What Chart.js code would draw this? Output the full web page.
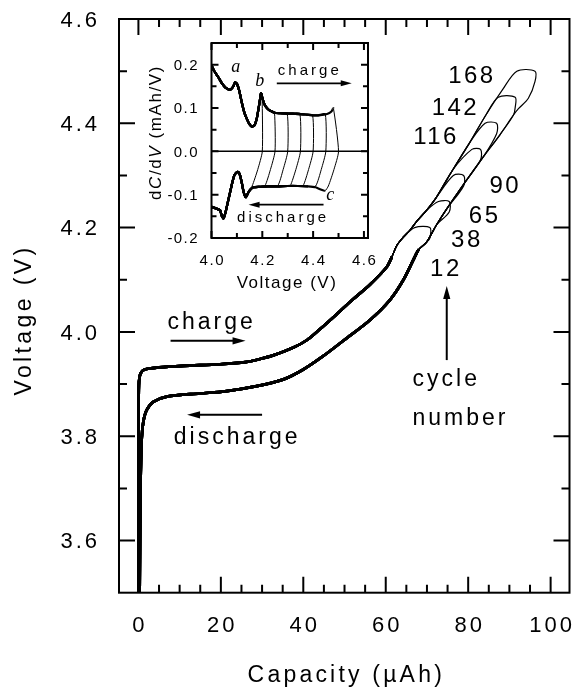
<!DOCTYPE html>
<html>
<head>
<meta charset="utf-8">
<title>Voltage vs capacity</title>
<script src="https://cdn.jsdelivr.net/npm/chart.js@4.4.1/dist/chart.umd.min.js"></script>
<style>
  html, body { margin: 0; padding: 0; background: #ffffff; }
  #wrap { position: relative; width: 576px; height: 693px; overflow: hidden; background: #ffffff; }
  #mainChart { position: absolute; left: 0; top: 0; }
  #insetChart { position: absolute; left: 140px; top: 30px; }
</style>
</head>
<body>
<div id="wrap">
  <canvas id="mainChart" width="576" height="693"></canvas>
  <canvas id="insetChart" width="240" height="280"></canvas>
</div>
<script>
// ---------------- data ----------------
const cycleNumbers = [12, 38, 65, 90, 116, 142, 168];
const cutoffVoltage = [4.20, 4.25, 4.30, 4.35, 4.40, 4.45, 4.50];
const cutoffStartCapacity = [67.0, 72.8, 76.4, 80.9, 84.1, 87.3, 91.8];
const cutoffEndCapacity = [70.7, 75.4, 78.9, 83.0, 86.9, 91.4, 96.2];

const chargeCapacity = [0, 0.05, 0.15, 0.5, 1.5, 5.0, 10.9, 19.8, 26.0, 29.5, 32.7, 37.6, 41.0, 44.0, 48.1, 52.0, 56.2, 60.2, 61.5, 62.7, 64.3, 65.9, 67.5, 69.9, 72.2, 76.2, 80.3, 84.3, 88.3, 90.8];
const chargeVoltage = [3.50, 3.86, 3.905, 3.920, 3.928, 3.932, 3.935, 3.938, 3.942, 3.948, 3.955, 3.970, 3.985, 4.005, 4.034, 4.062, 4.091, 4.124, 4.144, 4.166, 4.182, 4.195, 4.212, 4.233, 4.257, 4.310, 4.362, 4.416, 4.464, 4.490];

const dischargeCapacity = [0.3, 0.5, 0.8, 1.2, 2.0, 3.6, 6.9, 14.9, 21.0, 28.7, 35.2, 40.0, 44.7, 50.0, 56.2, 61.0, 64.3, 66.7, 68.0, 69.9, 72.3, 74.8, 78.8, 83.7, 87.7, 91.0, 92.2, 94.6];
const dischargeVoltage = [3.50, 3.70, 3.796, 3.828, 3.850, 3.866, 3.876, 3.882, 3.886, 3.896, 3.909, 3.928, 3.953, 3.985, 4.023, 4.061, 4.100, 4.138, 4.158, 4.172, 4.205, 4.236, 4.282, 4.336, 4.378, 4.416, 4.428, 4.448];

const capacityTicks = [0, 20, 40, 60, 80, 100];
const voltageTicks = [3.6, 3.8, 4.0, 4.2, 4.4, 4.6];

// inset: dC/dV versus voltage
const insetChargeVoltage = [4.000, 4.010, 4.027, 4.042, 4.055, 4.073, 4.084, 4.093, 4.101, 4.110, 4.119, 4.129, 4.139, 4.150, 4.160, 4.170, 4.178, 4.185, 4.191, 4.195, 4.199, 4.206, 4.213, 4.225, 4.237, 4.248, 4.270, 4.298, 4.320, 4.348, 4.370, 4.398, 4.420, 4.448, 4.462, 4.472, 4.480];
const insetChargeDCdV = [0.198, 0.186, 0.171, 0.156, 0.147, 0.142, 0.148, 0.159, 0.155, 0.138, 0.113, 0.090, 0.075, 0.062, 0.057, 0.061, 0.075, 0.098, 0.120, 0.134, 0.126, 0.112, 0.104, 0.096, 0.092, 0.089, 0.088, 0.087, 0.087, 0.086, 0.085, 0.083, 0.083, 0.085, 0.088, 0.092, 0.099];
const insetDischargeVoltage = [4.447, 4.430, 4.410, 4.380, 4.340, 4.300, 4.260, 4.220, 4.190, 4.165, 4.155, 4.145, 4.135, 4.127, 4.119, 4.112, 4.106, 4.098, 4.090, 4.082, 4.073, 4.064, 4.055, 4.047, 4.040, 4.034, 4.027, 4.015, 4.000];
const insetDischargeDCdV = [-0.091, -0.088, -0.083, -0.081, -0.080, -0.080, -0.081, -0.081, -0.082, -0.083, -0.087, -0.095, -0.106, -0.095, -0.072, -0.055, -0.048, -0.049, -0.055, -0.072, -0.095, -0.118, -0.141, -0.155, -0.148, -0.136, -0.134, -0.131, -0.128];

const insetVoltageTicks = [4.0, 4.2, 4.4, 4.6];
const insetDCdVTicks = [-0.2, -0.1, 0.0, 0.1, 0.2];

// ---------------- layout / style (not data) ----------------
const SANS = '"Liberation Sans", Arial, Helvetica, sans-serif';
const SERIF = '"Liberation Serif", "Times New Roman", serif';

const mainNotes = {
  texts: [
    { t: 'charge', x: 17.4, y: 4.0065, align: 'center' },
    { t: 'discharge', x: 23.6, y: 3.786, align: 'center' },
    { t: 'cycle', x: 66.5, y: 3.8963, align: 'left' },
    { t: 'number', x: 66.5, y: 3.8215, align: 'left' }
  ],
  arrows: [
    { x1: 7.8, y1: 3.983, x2: 26.0, y2: 3.983 },
    { x1: 30.0, y1: 3.841, x2: 11.8, y2: 3.841 },
    { x1: 74.8, y1: 3.946, x2: 74.8, y2: 4.088 }
  ],
  cycleLabelPos: [[74.3, 4.123], [79.4, 4.180], [83.7, 4.226], [88.7, 4.283], [71.9, 4.376], [76.6, 4.433], [80.6, 4.494]]
};
const insetNotes = {
  letters: [{ t: 'a', x: 4.095, y: 0.184 }, { t: 'b', x: 4.19, y: 0.150 }, { t: 'c', x: 4.467, y: -0.112 }],
  texts: [{ t: 'charge', x: 4.381, y: 0.176 }, { t: 'discharge', x: 4.276, y: -0.164 }],
  arrows: [
    { x1: 4.257, y1: 0.157, x2: 4.552, y2: 0.157 },
    { x1: 4.441, y1: -0.123, x2: 4.146, y2: -0.123 }
  ]
};

// ---------------- helpers ----------------
function drawRich(ctx, parts, x, y, o) {
  const ls = o.ls || 0, fam = o.family || SANS;
  const hasLS = ('letterSpacing' in ctx);
  ctx.save();
  ctx.fillStyle = '#000';
  ctx.textAlign = 'left';
  ctx.textBaseline = 'alphabetic';
  let total = 0, chars = 0;
  const ws = parts.map(p => {
    ctx.font = `${p.style || 'normal'} ${o.size}px ${fam}`;
    if (hasLS) ctx.letterSpacing = '0px';
    const w = ctx.measureText(p.t).width;
    total += w; chars += p.t.length;
    return w;
  });
  const eff = hasLS ? ls : 0;
  total += eff * (chars - 1);
  const start = o.align === 'center' ? -total / 2 : (o.align === 'right' ? -total : 0);
  const base = o.vcenter ? o.size * 0.358 : 0;
  ctx.translate(x, y);
  if (o.rotate) ctx.rotate(-Math.PI / 2);
  let cx = start;
  parts.forEach((p, i) => {
    ctx.font = `${p.style || 'normal'} ${o.size}px ${fam}`;
    if (hasLS) ctx.letterSpacing = eff + 'px';
    ctx.fillText(p.t, cx, base);
    cx += ws[i] + eff * p.t.length;
  });
  ctx.restore();
}
function drawText(ctx, str, x, y, o) { drawRich(ctx, [{ t: str, style: o.style }], x, y, o); }

function drawArrow(ctx, x1, y1, x2, y2, head, half, lw) {
  const ang = Math.atan2(y2 - y1, x2 - x1);
  ctx.save();
  ctx.strokeStyle = '#000'; ctx.fillStyle = '#000'; ctx.lineWidth = lw;
  ctx.beginPath();
  ctx.moveTo(x1, y1);
  ctx.lineTo(x2 - Math.cos(ang) * head * 0.7, y2 - Math.sin(ang) * head * 0.7);
  ctx.stroke();
  ctx.translate(x2, y2); ctx.rotate(ang);
  ctx.beginPath(); ctx.moveTo(0, 0); ctx.lineTo(-head, -half); ctx.lineTo(-head, half); ctx.closePath(); ctx.fill();
  ctx.restore();
}

// ---------------- main datasets ----------------
function buildMainLoop(i) {
  const vc = cutoffVoltage[i];
  const pts = [];
  chargeCapacity.forEach((c, k) => {
    if (chargeVoltage[k] < vc - 0.01 && c < cutoffStartCapacity[i] - 0.5) pts.push({ x: c, y: chargeVoltage[k] });
  });
  pts.push({ x: cutoffStartCapacity[i], y: vc }, { x: cutoffEndCapacity[i], y: vc }, { x: cutoffEndCapacity[i], y: vc - 0.02 });
  for (let k = dischargeCapacity.length - 1; k >= 0; k--) {
    if (dischargeVoltage[k] < vc - 0.025 && dischargeCapacity[k] < cutoffEndCapacity[i]) pts.push({ x: dischargeCapacity[k], y: dischargeVoltage[k] });
  }
  const widths = pts.slice(1).map((p, k) => (p.y < 4.16 && pts[k].y < 4.16) ? 2.7 : 1.2);
  return {
    label: 'cycle ' + cycleNumbers[i], data: pts, showLine: true, fill: false, tension: 0.3,
    borderColor: '#000', borderWidth: 1.2, borderJoinStyle: 'round', pointRadius: 0, pointHoverRadius: 0,
    segment: { borderWidth: c => widths[c.p0DataIndex] }
  };
}

function buildInsetLoop(i) {
  const vc = cutoffVoltage[i];
  const pts = [];
  insetChargeVoltage.forEach((v, k) => { if (v <= vc - 0.001) pts.push({ x: v, y: insetChargeDCdV[k] }); });
  const thinStart = pts.length - 1;
  pts.push({ x: vc, y: 0 }, { x: vc - 0.018, y: -0.042 }, { x: vc - 0.04, y: -0.08 });
  const thinEnd = pts.length;
  insetDischargeVoltage.forEach((v, k) => { if (v < vc - 0.045) pts.push({ x: v, y: insetDischargeDCdV[k] }); });
  return {
    label: 'cycle ' + cycleNumbers[i], data: pts, showLine: true, fill: false, tension: 0.2,
    borderColor: '#000', borderWidth: 2.2, borderJoinStyle: 'round', pointRadius: 0, pointHoverRadius: 0,
    segment: { borderWidth: c => (c.p0DataIndex >= thinStart && c.p1DataIndex <= thinEnd) ? 1.0 : 2.2 }
  };
}

// ---------------- main decorations ----------------
const mainDecor = {
  id: 'mainDecor',
  afterDraw(chart) {
    const { ctx, chartArea: a, scales: { x, y } } = chart;
    ctx.save();
    ctx.strokeStyle = '#000'; ctx.fillStyle = '#000'; ctx.lineWidth = 2; ctx.lineCap = 'butt';
    ctx.beginPath();
    for (let k = 0; k <= 20; k++) {
      const v = k * 5, px = x.getPixelForValue(v), L = (k % 4 === 0) ? 16 : 8;
      ctx.moveTo(px, a.bottom); ctx.lineTo(px, a.bottom - L);
      ctx.moveTo(px, a.top); ctx.lineTo(px, a.top + L);
    }
    for (let k = 36; k <= 46; k++) {
      const v = k / 10, py = y.getPixelForValue(v), L = (k % 2 === 0) ? 16 : 8;
      ctx.moveTo(a.left, py); ctx.lineTo(a.left + L, py);
      ctx.moveTo(a.right, py); ctx.lineTo(a.right - L, py);
    }
    ctx.stroke();
    ctx.strokeRect(a.left, a.top, a.right - a.left, a.bottom - a.top);
    ctx.restore();

    // tick labels
    x.ticks.forEach(t => drawText(ctx, String(t.value), x.getPixelForValue(t.value), a.bottom + 39, { size: 22, ls: 3, align: 'center' }));
    y.ticks.forEach(t => drawText(ctx, t.value.toFixed(1), a.left - 22, y.getPixelForValue(t.value), { size: 22, ls: 3, align: 'right', vcenter: true }));

    // axis titles
    drawText(ctx, 'Capacity (\u00b5Ah)', 344.7, 681.7, { size: 23, ls: 3.2, align: 'center' });
    drawText(ctx, 'Voltage (V)', 31, 321.7, { size: 23, ls: 3.4, align: 'center', rotate: true });

    // annotations
    mainNotes.texts.forEach(n => drawText(ctx, n.t, x.getPixelForValue(n.x), y.getPixelForValue(n.y), { size: 23, ls: 3, align: n.align }));
    mainNotes.arrows.forEach(r => drawArrow(ctx, x.getPixelForValue(r.x1), y.getPixelForValue(r.y1), x.getPixelForValue(r.x2), y.getPixelForValue(r.y2), 13, 3.6, 2));
    cycleNumbers.forEach((n, i) => {
      const p = mainNotes.cycleLabelPos[i];
      drawText(ctx, String(n), x.getPixelForValue(p[0]), y.getPixelForValue(p[1]), { size: 24, ls: 2.5, align: 'center', vcenter: true });
    });
  }
};

// ---------------- inset decorations ----------------
const insetDecor = {
  id: 'insetDecor',
  afterDraw(chart) {
    const { ctx, chartArea: a, scales: { x, y } } = chart;
    ctx.save();
    ctx.strokeStyle = '#000'; ctx.lineWidth = 1.5; ctx.lineCap = 'butt';
    const y0 = y.getPixelForValue(0);
    ctx.beginPath(); ctx.moveTo(a.left, y0); ctx.lineTo(a.right, y0); ctx.stroke();
    ctx.lineWidth = 2;
    ctx.beginPath();
    for (let k = 0; k <= 6; k++) {
      const px = x.getPixelForValue(4 + k / 10), L = (k % 2 === 0) ? 7 : 5;
      ctx.moveTo(px, a.bottom); ctx.lineTo(px, a.bottom - L);
      ctx.moveTo(px, a.top); ctx.lineTo(px, a.top + L);
    }
    for (let k = -4; k <= 4; k++) {
      const py = y.getPixelForValue(k * 0.05), L = (k % 2 === 0) ? 7 : 5;
      ctx.moveTo(a.left, py); ctx.lineTo(a.left + L, py);
      ctx.moveTo(a.right, py); ctx.lineTo(a.right - L, py);
    }
    ctx.stroke();
    ctx.strokeRect(a.left, a.top, a.right - a.left, a.bottom - a.top);
    ctx.restore();

    x.ticks.forEach(t => drawText(ctx, t.value.toFixed(1), x.getPixelForValue(t.value), a.bottom + 27, { size: 15, ls: 1.6, align: 'center' }));
    y.ticks.forEach(t => drawText(ctx, t.value.toFixed(1), a.left - 14, y.getPixelForValue(t.value), { size: 15, ls: 1.4, align: 'right', vcenter: true }));

    drawText(ctx, 'Voltage (V)', (a.left + a.right) / 2 - 3.5, a.bottom + 50.3, { size: 17, ls: 1.5, align: 'center' });
    drawRich(ctx, [
      { t: 'd' }, { t: 'C', style: 'italic' }, { t: '/d' }, { t: 'V', style: 'italic' }, { t: ' (mAh/V)' }
    ], a.left - 50.8, 103.3, { size: 17, ls: 1.6, align: 'center', rotate: true });

    insetNotes.letters.forEach(n => drawText(ctx, n.t, x.getPixelForValue(n.x), y.getPixelForValue(n.y), { size: 18, style: 'italic', family: SERIF, align: 'center' }));
    insetNotes.texts.forEach(n => drawText(ctx, n.t, x.getPixelForValue(n.x), y.getPixelForValue(n.y), { size: 15, ls: 3, align: 'center' }));
    insetNotes.arrows.forEach(r => drawArrow(ctx, x.getPixelForValue(r.x1), y.getPixelForValue(r.y1), x.getPixelForValue(r.x2), y.getPixelForValue(r.y2), 11, 3, 1.7));
  }
};

const hiddenAxis = (extra) => Object.assign({
  type: 'linear',
  grid: { display: false, drawTicks: false },
  border: { display: false },
  ticks: { display: false }
}, extra);

new Chart(document.getElementById('mainChart'), {
  type: 'scatter',
  data: { datasets: cycleNumbers.map((n, i) => buildMainLoop(i)) },
  options: {
    responsive: false, animation: false, devicePixelRatio: 1,
    layout: { padding: { left: 0, top: 19, right: 6.5, bottom: 0 } },
    plugins: { legend: { display: false }, tooltip: { enabled: false } },
    events: [],
    scales: {
      x: hiddenAxis({ position: 'bottom', min: -4.71, max: 104.58,
        afterBuildTicks: s => { s.ticks = capacityTicks.map(v => ({ value: v })); },
        afterFit: s => { s.height = 100.3; } }),
      y: hiddenAxis({ position: 'left', min: 3.5, max: 4.6,
        afterBuildTicks: s => { s.ticks = voltageTicks.map(v => ({ value: v })); },
        afterFit: s => { s.width = 119; } })
    }
  },
  plugins: [mainDecor]
});

new Chart(document.getElementById('insetChart'), {
  type: 'scatter',
  data: { datasets: cycleNumbers.map((n, i) => buildInsetLoop(i)) },
  options: {
    responsive: false, animation: false, devicePixelRatio: 1,
    layout: { padding: { left: 0, top: 13, right: 12, bottom: 0 } },
    plugins: { legend: { display: false }, tooltip: { enabled: false } },
    events: [],
    scales: {
      x: hiddenAxis({ position: 'bottom', min: 4.0, max: 4.616,
        afterBuildTicks: s => { s.ticks = insetVoltageTicks.map(v => ({ value: v })); },
        afterFit: s => { s.height = 72; } }),
      y: hiddenAxis({ position: 'left', min: -0.2, max: 0.25,
        afterBuildTicks: s => { s.ticks = insetDCdVTicks.map(v => ({ value: v })); },
        afterFit: s => { s.width = 71.5; } })
    }
  },
  plugins: [insetDecor]
});
</script>
</body>
</html>
